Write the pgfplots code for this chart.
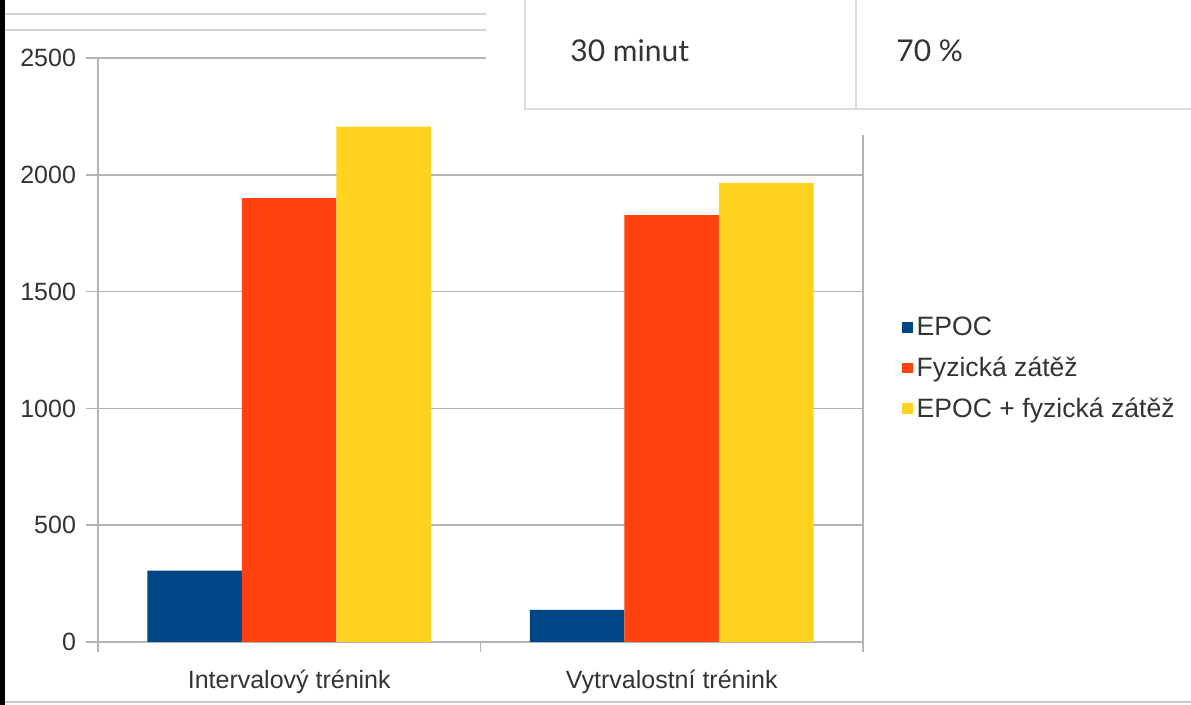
\documentclass[border=0pt]{standalone}
\usepackage{pgfplots}
\pgfplotsset{compat=1.18}
\usepackage{fontspec}
\setmainfont{Liberation Sans}
\newfontfamily\tablefont{Lato}

\definecolor{epocblue}{HTML}{004586}
\definecolor{loadred}{HTML}{FF420E}
\definecolor{sumyellow}{HTML}{FFD320}
\definecolor{gridgray}{HTML}{B3B3B3}
\definecolor{labelgray}{HTML}{333333}
\definecolor{framegray}{HTML}{DCDCDC}

\begin{document}
\begin{tikzpicture}
  % page background (pixel-like units: 1 unit = 0.5pt, y downwards)
  \begin{scope}[x=0.5pt,y=-0.5pt]
    \fill[white] (0,0) rectangle (1191,705);
  \end{scope}

  \begin{axis}[
    at={(49pt,-321pt)}, anchor=south west,
    scale only axis, width=382.5pt, height=292pt,
    xmin=-0.5, xmax=1.5, ymin=0, ymax=2500,
    ybar=0pt, bar width=47.25pt,
    axis line style={gridgray, line width=0.8pt},
    xtick={0,1},
    xticklabels={Intervalový trénink, Vytrvalostní trénink},
    major x tick style={draw=none},
    minor xtick={-0.5,0.5,1.5},
    minor x tick style={gridgray, line width=0.8pt},
    minor tick length=5pt,
    ytick={0,500,1000,1500,2000,2500},
    major tick length=6pt,
    y tick style={gridgray, line width=0.8pt},
    tick align=outside,
    xtick pos=bottom, ytick pos=left,
    ymajorgrids,
    grid style={gridgray, line width=0.8pt},
    tick label style={font=\fontsize{12.5}{15}\selectfont, text=labelgray},
    /pgf/number format/assume math mode=true,
    /pgf/number format/1000 sep={},
    yticklabel style={xshift=-1.5pt},
    xticklabel style={yshift=-4.5pt},
    legend style={
      at={(1.0425,0.571)}, anchor=north west,
      draw=none, fill=none,
      font=\fontsize{13.3}{16}\selectfont,
      text=labelgray,
      row sep=5.1pt,
      /tikz/every even column/.append style={column sep=3.5pt},
    },
    legend cell align=left,
    legend image code/.code={\fill[#1] (-2.5pt,-2.7pt) rectangle (2.9pt,2.7pt);},
  ]
    \addplot[fill=epocblue, draw=none] coordinates {(0,306) (1,138)};
    \addplot[fill=loadred, draw=none] coordinates {(0,1900) (1,1827)};
    \addplot[fill=sumyellow, draw=none] coordinates {(0,2206) (1,1965)};
    \legend{EPOC, Fyzická zátěž, EPOC + fyzická zátěž}
  \end{axis}

  \begin{scope}[x=0.5pt,y=-0.5pt]
    % overlapping page content at the top
    \fill[white] (486,0) rectangle (1191,135);
    \draw[framegray, line width=1pt] (525,-2) -- (525,109.5) -- (1195,109.5);
    \draw[framegray, line width=1pt] (856,-2) -- (856,109.5);
    \node[anchor=base west, text=labelgray, inner sep=0pt,
          font=\tablefont\fontsize{15}{17}\selectfont] at (570,62) {30 minut};
    \node[anchor=base west, text=labelgray, inner sep=0pt,
          font=\tablefont\fontsize{15}{17}\selectfont] at (896,62) {70 \%};
    \draw[framegray!90!gray, line width=1.2pt] (5,14) -- (486,14);
    \draw[framegray!90!gray, line width=1.2pt] (5,30) -- (486,30);

    % screen edges
    \fill[black] (0,0) rectangle (4.5,705);
    \draw[framegray!80!gray, line width=1.2pt] (4.5,702) -- (1191,702);

    \pgfresetboundingbox
    \path[use as bounding box] (0,0) rectangle (1191,705);
  \end{scope}
\end{tikzpicture}
\end{document}
